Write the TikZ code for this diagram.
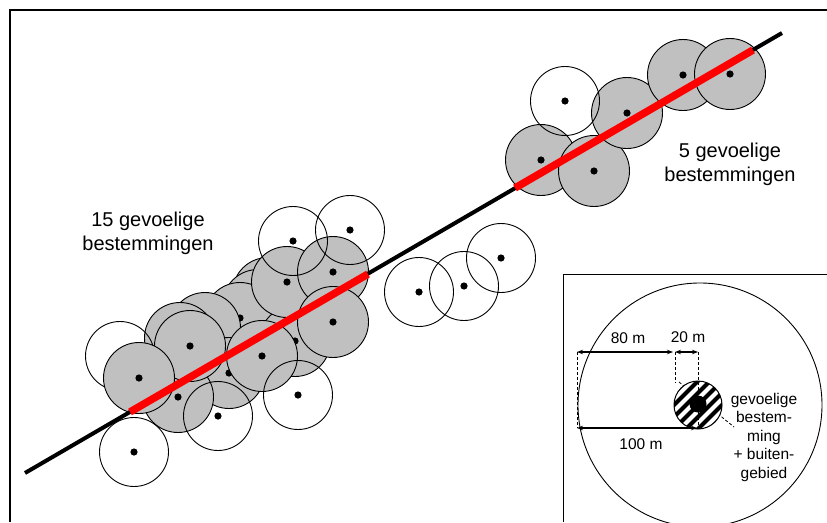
\documentclass[tikz,border=0pt]{standalone}
\usepackage{fontspec}
\setmainfont{Liberation Sans}
\usetikzlibrary{arrows.meta}
\definecolor{destgray}{RGB}{192,192,192}
\definecolor{routered}{RGB}{255,0,0}
\newcommand{\graydest}[2]{\draw[gcirc] (#1,#2) circle[radius=35.5]; \fill (#1,#2) circle[radius=3.6];}
\newcommand{\whitedest}[2]{\draw[wcirc] (#1,#2) circle[radius=34.5]; \fill (#1,#2) circle[radius=3.6];}
\begin{document}
\begin{tikzpicture}[x=1pt,y=-1pt,
  gcirc/.style={draw=black, line width=0.9pt, fill=destgray},
  wcirc/.style={draw=black, line width=0.9pt},
  roadline/.style={line width=4pt, black},
  redpart/.style={line width=7.5pt, routered},
  biglabel/.style={font=\fontsize{20}{24}\selectfont, align=center, inner sep=0pt},
  smalllabel/.style={font=\fontsize{15.5}{18.5}\selectfont, align=center, inner sep=0pt},
  dimarrow/.style={line width=1.2pt, {Stealth[length=6pt,width=4.5pt]}-{Stealth[length=6pt,width=4.5pt]}},
  dimdash/.style={line width=0.8pt, dash pattern=on 3pt off 2pt}]
\useasboundingbox (0,0) rectangle (827,522);
\fill[white] (0,0) rectangle (827,522);

% outer frame
\draw[line width=2.2pt] (10,522) -- (10,10) -- (827,10);

% ---- upper cluster ----
\graydest{541}{160}
\graydest{594}{171}
\graydest{627}{113}
\graydest{683}{75}
\graydest{730}{74}
\whitedest{565}{101}

% ---- middle free circles ----
\whitedest{419}{292}
\whitedest{464}{286}
\whitedest{501}{258}

% ---- lower cluster ----
\graydest{268}{293}
\graydest{258}{305}
\graydest{240}{318}
\graydest{205}{328}
\graydest{180}{338}
\graydest{295}{341}
\graydest{229}{373}
\graydest{178}{397}
\whitedest{120}{356}
\graydest{190}{346}
\graydest{139}{378}
\graydest{262}{356}
\graydest{287}{282}
\graydest{333}{272}
\graydest{333}{322}
\whitedest{134}{452}
\whitedest{218}{416}
\whitedest{298}{395}
\whitedest{293}{241}
\whitedest{350}{230}

% road
\coordinate (roadA) at (25,473);
\coordinate (roadB) at (782,33);
\draw[roadline] (roadA) -- (roadB);
\coordinate (redA1) at (130,412);
\coordinate (redA2) at (368,274);
\coordinate (redB1) at (515,188);
\coordinate (redB2) at (753,50);
\draw[redpart] (redA1) -- (redA2);
\draw[redpart] (redB1) -- (redB2);

% labels
\node[biglabel] (lab15) at (148,233) {15 gevoelige\\bestemmingen};
\node[biglabel] (lab5) at (730,164) {5 gevoelige\\bestemmingen};

% ---- inset ----
\draw[line width=1pt] (563,522) -- (563,274) -- (827,274);
\draw[line width=0.9pt] (700,405) circle[radius=122];

\coordinate (lead1) at (679,382);
\coordinate (lead2) at (734,427);
\draw[dimdash] (lead1) -- (lead2);

\begin{scope}
  \clip (698,405) circle[radius=24];
  \fill[white] (698,405) circle[radius=24];
  \foreach \i in {-5,...,5} {
    \draw[line width=4pt] ({698+\i*6-40},{405+\i*6+40}) -- ({698+\i*6+40},{405+\i*6-40});
  }
\end{scope}
\draw[line width=1pt] (698,405) circle[radius=24];
\fill (698,404) circle[radius=8.5];

\coordinate (d80l) at (577,352);
\coordinate (d80r) at (673,352);
\coordinate (d20l) at (675,352);
\coordinate (d20r) at (698,352);
\coordinate (d100l) at (577,428);
\coordinate (d100r) at (697,428);
\coordinate (v20b) at (675,383);
\coordinate (vcb) at (698,428);

\draw[dimdash] (d80l) -- (d100l);
\draw[dimdash] (d20l) -- (v20b);
\draw[dimdash] (d20r) -- (vcb);
\draw[dimarrow] (d80l) -- (d80r);
\draw[dimarrow] (d20l) -- (d20r);
\draw[dimarrow] (d100l) -- (d100r);

\node[smalllabel] (l80) at (628,338) {80 m};
\node[smalllabel] (l20) at (688,337) {20 m};
\node[smalllabel] (l100) at (641,444) {100 m};
\node[smalllabel] (lgev) at (764,437) {gevoelige\\bestem-\\ming\\+ buiten-\\gebied};
\end{tikzpicture}
\end{document}
